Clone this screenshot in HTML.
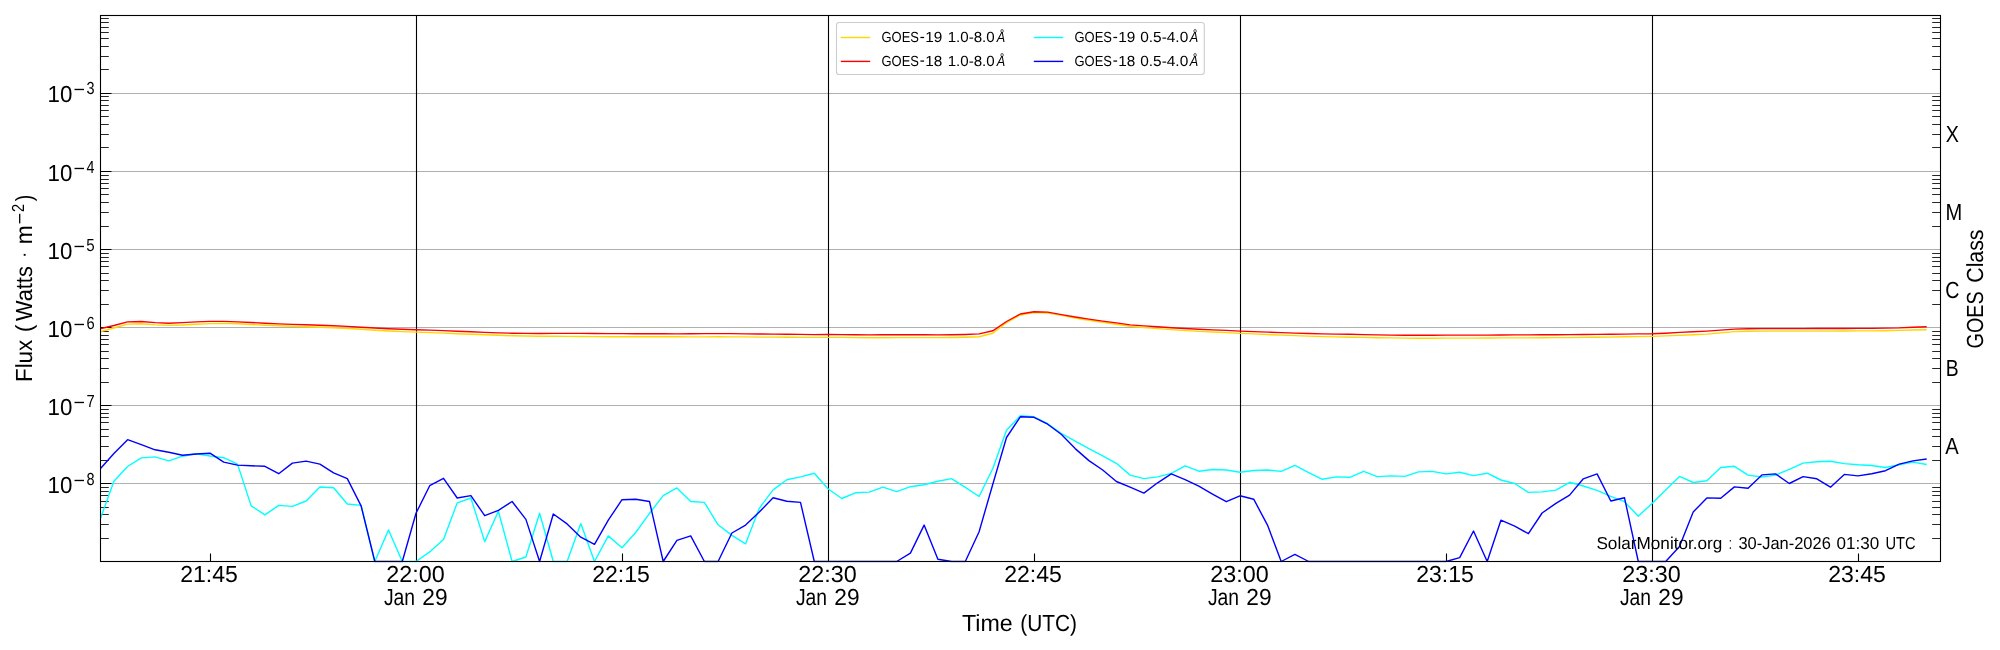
<!DOCTYPE html>
<html lang="en"><head><meta charset="utf-8"><title>GOES X-ray Flux</title>
<style>html,body{margin:0;padding:0;background:#fff;}body{width:2000px;height:650px;overflow:hidden;}svg{display:block;will-change:transform;}text{font-family:"Liberation Sans", sans-serif;fill:#000;text-rendering:geometricPrecision;}</style></head><body>
<svg width="2000" height="650" viewBox="0 0 2000 650">
<rect x="0" y="0" width="2000" height="650" fill="#ffffff"/>
<defs><clipPath id="ax"><rect x="100.5" y="15.5" width="1840.0" height="546.9"/></clipPath></defs>
<path d="M100.5 483.5H1940.5M100.5 405.5H1940.5M100.5 327.5H1940.5M100.5 249.5H1940.5M100.5 171.5H1940.5M100.5 93.5H1940.5" stroke="#b0b0b0" stroke-width="1.1" fill="none"/>
<path d="M416.5 15.5V561.5M828.5 15.5V561.5M1240.5 15.5V561.5M1652.5 15.5V561.5" stroke="#000" stroke-width="1.1" fill="none"/>
<path d="M100.5 483.5h11.0M100.5 405.5h11.0M100.5 327.5h11.0M100.5 249.5h11.0M100.5 171.5h11.0M100.5 93.5h11.0" stroke="#000" stroke-width="1.1" fill="none"/>
<path d="M100.5 538.5h8.3M1940.5 538.5h-8.3M100.5 524.5h8.3M1940.5 524.5h-8.3M100.5 514.5h8.3M1940.5 514.5h-8.3M100.5 507.5h8.3M1940.5 507.5h-8.3M100.5 501.5h8.3M1940.5 501.5h-8.3M100.5 495.5h8.3M1940.5 495.5h-8.3M100.5 491.5h8.3M1940.5 491.5h-8.3M100.5 487.5h8.3M1940.5 487.5h-8.3M100.5 460.5h8.3M1940.5 460.5h-8.3M100.5 446.5h8.3M1940.5 446.5h-8.3M100.5 436.5h8.3M1940.5 436.5h-8.3M100.5 429.5h8.3M1940.5 429.5h-8.3M100.5 422.5h8.3M1940.5 422.5h-8.3M100.5 417.5h8.3M1940.5 417.5h-8.3M100.5 413.5h8.3M1940.5 413.5h-8.3M100.5 409.5h8.3M1940.5 409.5h-8.3M100.5 382.5h8.3M1940.5 382.5h-8.3M100.5 368.5h8.3M1940.5 368.5h-8.3M100.5 358.5h8.3M1940.5 358.5h-8.3M100.5 351.5h8.3M1940.5 351.5h-8.3M100.5 344.5h8.3M1940.5 344.5h-8.3M100.5 339.5h8.3M1940.5 339.5h-8.3M100.5 335.5h8.3M1940.5 335.5h-8.3M100.5 331.5h8.3M1940.5 331.5h-8.3M100.5 304.5h8.3M1940.5 304.5h-8.3M100.5 290.5h8.3M1940.5 290.5h-8.3M100.5 280.5h8.3M1940.5 280.5h-8.3M100.5 273.5h8.3M1940.5 273.5h-8.3M100.5 266.5h8.3M1940.5 266.5h-8.3M100.5 261.5h8.3M1940.5 261.5h-8.3M100.5 257.5h8.3M1940.5 257.5h-8.3M100.5 253.5h8.3M1940.5 253.5h-8.3M100.5 226.5h8.3M1940.5 226.5h-8.3M100.5 212.5h8.3M1940.5 212.5h-8.3M100.5 202.5h8.3M1940.5 202.5h-8.3M100.5 194.5h8.3M1940.5 194.5h-8.3M100.5 188.5h8.3M1940.5 188.5h-8.3M100.5 183.5h8.3M1940.5 183.5h-8.3M100.5 179.5h8.3M1940.5 179.5h-8.3M100.5 175.5h8.3M1940.5 175.5h-8.3M100.5 147.5h8.3M1940.5 147.5h-8.3M100.5 134.5h8.3M1940.5 134.5h-8.3M100.5 124.5h8.3M1940.5 124.5h-8.3M100.5 116.5h8.3M1940.5 116.5h-8.3M100.5 110.5h8.3M1940.5 110.5h-8.3M100.5 105.5h8.3M1940.5 105.5h-8.3M100.5 100.5h8.3M1940.5 100.5h-8.3M100.5 96.5h8.3M1940.5 96.5h-8.3M100.5 69.5h8.3M1940.5 69.5h-8.3M100.5 56.5h8.3M1940.5 56.5h-8.3M100.5 46.5h8.3M1940.5 46.5h-8.3M100.5 38.5h8.3M1940.5 38.5h-8.3M100.5 32.5h8.3M1940.5 32.5h-8.3M100.5 27.5h8.3M1940.5 27.5h-8.3M100.5 22.5h8.3M1940.5 22.5h-8.3M100.5 18.5h8.3M1940.5 18.5h-8.3" stroke="#000" stroke-width="0.85" fill="none"/>
<path d="M210.5 561.5v-8.0M622.5 561.5v-8.0M1034.5 561.5v-8.0M1446.5 561.5v-8.0M1858.5 561.5v-8.0" stroke="#000" stroke-width="1.1" fill="none"/>
<g id="series">
<polyline points="100.1,331.8 113.9,328.0 127.6,324.1 141.3,323.7 155.1,324.9 168.8,325.4 182.5,325.0 196.3,324.2 210.0,323.6 223.7,323.4 237.5,323.8 251.2,324.5 264.9,325.2 278.7,325.8 292.4,326.3 306.1,326.7 319.9,327.2 333.6,327.8 347.3,328.5 361.1,329.3 374.8,330.2 388.5,331.0 402.3,331.6 416.0,332.1 429.7,332.6 443.5,333.1 457.2,333.7 470.9,334.3 484.7,334.8 498.4,335.3 512.1,335.8 525.9,336.0 539.6,336.2 553.3,336.3 567.1,336.4 580.8,336.5 594.5,336.6 608.3,336.7 622.0,336.8 635.7,336.8 649.5,336.8 663.2,336.8 676.9,336.8 690.7,336.9 704.4,336.9 718.1,336.8 731.9,336.9 745.6,336.9 759.3,337.1 773.1,337.1 786.8,337.2 800.5,337.4 814.3,337.4 828.0,337.4 841.7,337.4 855.5,337.6 869.2,337.8 882.9,337.7 896.7,337.6 910.4,337.6 924.1,337.6 937.9,337.6 951.6,337.5 965.3,337.3 979.1,336.8 992.8,333.2 1006.5,322.7 1020.3,315.0 1034.0,312.6 1047.7,313.0 1061.5,315.4 1075.2,318.0 1088.9,320.2 1102.7,322.3 1116.4,324.2 1130.1,326.3 1143.9,327.6 1157.6,328.6 1171.3,329.6 1185.1,330.6 1198.8,331.4 1212.5,332.0 1226.3,332.6 1240.0,333.4 1253.7,333.9 1267.5,334.6 1281.2,335.1 1294.9,335.6 1308.7,336.1 1322.4,336.6 1336.1,336.9 1349.9,337.2 1363.6,337.4 1377.3,337.8 1391.1,337.9 1404.8,338.1 1418.5,338.2 1432.3,338.2 1446.0,338.1 1459.7,338.1 1473.5,338.1 1487.2,338.0 1500.9,337.9 1514.7,337.9 1528.4,337.9 1542.1,337.7 1555.9,337.6 1569.6,337.6 1583.3,337.4 1597.1,337.3 1610.8,337.1 1624.5,336.8 1638.3,336.6 1652.0,336.4 1665.7,335.9 1679.5,335.4 1693.2,334.8 1706.9,334.1 1720.7,332.9 1734.4,331.6 1748.1,331.2 1761.9,331.1 1775.6,331.1 1789.3,331.1 1803.1,331.1 1816.8,331.1 1830.5,331.1 1844.3,331.0 1858.0,330.9 1871.7,330.9 1885.5,330.7 1899.2,330.4 1912.9,330.0 1926.7,329.7" fill="none" stroke="#ffd700" stroke-width="1.4" stroke-linejoin="round" stroke-linecap="butt" clip-path="url(#ax)"/>
<polyline points="100.1,328.8 113.9,325.5 127.6,321.9 141.3,321.5 155.1,322.6 168.8,323.2 182.5,322.6 196.3,321.9 210.0,321.4 223.7,321.4 237.5,321.9 251.2,322.5 264.9,323.2 278.7,323.9 292.4,324.4 306.1,324.8 319.9,325.2 333.6,325.7 347.3,326.4 361.1,327.2 374.8,328.0 388.5,328.7 402.3,329.3 416.0,329.8 429.7,330.1 443.5,330.6 457.2,331.2 470.9,331.8 484.7,332.4 498.4,332.9 512.1,333.2 525.9,333.4 539.6,333.5 553.3,333.4 567.1,333.4 580.8,333.4 594.5,333.5 608.3,333.6 622.0,333.6 635.7,333.7 649.5,333.7 663.2,333.8 676.9,333.9 690.7,333.7 704.4,333.6 718.1,333.6 731.9,333.6 745.6,333.9 759.3,334.0 773.1,334.1 786.8,334.3 800.5,334.4 814.3,334.6 828.0,334.5 841.7,334.6 855.5,334.8 869.2,334.9 882.9,334.8 896.7,334.8 910.4,334.8 924.1,334.8 937.9,334.9 951.6,334.8 965.3,334.5 979.1,333.9 992.8,330.8 1006.5,321.5 1020.3,314.0 1034.0,311.8 1047.7,312.1 1061.5,314.6 1075.2,317.0 1088.9,319.1 1102.7,321.1 1116.4,322.9 1130.1,324.9 1143.9,325.9 1157.6,326.8 1171.3,327.7 1185.1,328.5 1198.8,329.2 1212.5,329.9 1226.3,330.4 1240.0,331.1 1253.7,331.6 1267.5,332.1 1281.2,332.6 1294.9,333.1 1308.7,333.5 1322.4,333.9 1336.1,334.1 1349.9,334.3 1363.6,334.6 1377.3,334.9 1391.1,335.1 1404.8,335.2 1418.5,335.2 1432.3,335.2 1446.0,335.1 1459.7,335.1 1473.5,335.1 1487.2,335.1 1500.9,335.0 1514.7,334.9 1528.4,334.9 1542.1,334.8 1555.9,334.7 1569.6,334.6 1583.3,334.5 1597.1,334.4 1610.8,334.2 1624.5,334.1 1638.3,333.9 1652.0,333.8 1665.7,333.2 1679.5,332.4 1693.2,331.8 1706.9,331.1 1720.7,330.1 1734.4,329.1 1748.1,328.7 1761.9,328.6 1775.6,328.6 1789.3,328.6 1803.1,328.6 1816.8,328.5 1830.5,328.5 1844.3,328.5 1858.0,328.4 1871.7,328.4 1885.5,328.1 1899.2,327.9 1912.9,327.3 1926.7,326.8" fill="none" stroke="#ff0000" stroke-width="1.4" stroke-linejoin="round" stroke-linecap="butt" clip-path="url(#ax)"/>
<polyline points="100.1,519.5 113.9,481.3 127.6,466.5 141.3,457.9 155.1,456.9 168.8,460.9 182.5,456.2 196.3,453.7 210.0,456.0 223.7,457.7 237.5,464.1 251.2,505.9 264.9,514.8 278.7,505.4 292.4,506.4 306.1,501.0 319.9,487.0 333.6,487.7 347.3,504.0 361.1,505.4 374.8,561.5 388.5,530.0 402.3,561.5 416.0,561.5 429.7,551.9 443.5,539.6 457.2,502.9 470.9,498.0 484.7,541.6 498.4,511.3 512.1,561.5 525.9,557.0 539.6,513.3 553.3,561.5 567.1,561.5 580.8,523.6 594.5,561.5 608.3,535.9 622.0,547.7 635.7,532.5 649.5,513.3 663.2,495.6 676.9,487.9 690.7,501.5 704.4,502.4 718.1,524.8 731.9,535.4 745.6,543.8 759.3,508.3 773.1,489.9 786.8,479.8 800.5,476.9 814.3,473.2 828.0,488.7 841.7,498.5 855.5,492.8 869.2,492.1 882.9,487.2 896.7,491.6 910.4,486.7 924.1,484.7 937.9,481.3 951.6,478.6 965.3,487.4 979.1,496.5 992.8,468.5 1006.5,430.3 1020.3,415.8 1034.0,416.8 1047.7,423.7 1061.5,433.5 1075.2,441.2 1088.9,448.6 1102.7,455.9 1116.4,463.3 1130.1,475.1 1143.9,478.6 1157.6,476.9 1171.3,473.4 1185.1,465.8 1198.8,471.2 1212.5,469.5 1226.3,470.0 1240.0,472.2 1253.7,470.5 1267.5,470.0 1281.2,471.4 1294.9,465.3 1308.7,472.7 1322.4,479.3 1336.1,476.9 1349.9,477.3 1363.6,471.4 1377.3,476.6 1391.1,475.9 1404.8,476.4 1418.5,471.9 1432.3,471.4 1446.0,473.9 1459.7,472.2 1473.5,475.6 1487.2,473.2 1500.9,480.0 1514.7,483.5 1528.4,492.4 1542.1,491.9 1555.9,490.1 1569.6,482.3 1583.3,486.0 1597.1,490.4 1610.8,496.3 1624.5,501.7 1638.3,516.2 1652.0,503.4 1665.7,489.9 1679.5,476.4 1693.2,482.5 1706.9,480.8 1720.7,467.5 1734.4,466.3 1748.1,475.1 1761.9,477.0 1775.6,475.1 1789.3,469.3 1803.1,463.1 1816.8,461.8 1830.5,461.3 1844.3,463.6 1858.0,464.8 1871.7,465.5 1885.5,467.5 1899.2,464.8 1912.9,462.1 1926.7,464.5" fill="none" stroke="#00ffff" stroke-width="1.4" stroke-linejoin="round" stroke-linecap="butt" clip-path="url(#ax)"/>
<polyline points="100.1,469.0 113.9,453.5 127.6,439.7 141.3,444.6 155.1,449.8 168.8,452.3 182.5,455.2 196.3,454.0 210.0,453.2 223.7,462.1 237.5,465.1 251.2,465.8 264.9,466.3 278.7,473.7 292.4,463.1 306.1,461.1 319.9,464.1 333.6,472.9 347.3,478.6 361.1,505.9 374.8,561.5 388.5,561.5 402.3,561.5 416.0,513.3 429.7,485.7 443.5,478.3 457.2,498.0 470.9,495.6 484.7,515.7 498.4,510.3 512.1,501.5 525.9,519.4 539.6,561.5 553.3,514.0 567.1,523.9 580.8,537.2 594.5,544.3 608.3,520.2 622.0,499.7 635.7,499.2 649.5,501.5 663.2,561.5 676.9,540.3 690.7,535.9 704.4,561.5 718.1,561.5 731.9,533.0 745.6,525.1 759.3,512.0 773.1,497.8 786.8,501.2 800.5,502.4 814.3,561.5 828.0,561.5 841.7,561.5 855.5,561.5 869.2,561.5 882.9,561.5 896.7,561.5 910.4,553.1 924.1,525.1 937.9,559.3 951.6,561.5 965.3,561.5 979.1,531.7 992.8,484.2 1006.5,437.5 1020.3,416.8 1034.0,417.3 1047.7,424.2 1061.5,434.5 1075.2,448.6 1088.9,460.6 1102.7,470.0 1116.4,481.5 1130.1,487.2 1143.9,493.1 1157.6,482.8 1171.3,473.9 1185.1,479.6 1198.8,486.2 1212.5,494.1 1226.3,501.7 1240.0,495.8 1253.7,499.2 1267.5,525.1 1281.2,561.5 1294.9,554.4 1308.7,561.5 1322.4,561.5 1336.1,561.5 1349.9,561.5 1363.6,561.5 1377.3,561.5 1391.1,561.5 1404.8,561.5 1418.5,561.5 1432.3,561.5 1446.0,561.5 1459.7,557.6 1473.5,531.0 1487.2,561.5 1500.9,520.2 1514.7,526.1 1528.4,533.7 1542.1,513.0 1555.9,503.4 1569.6,495.1 1583.3,478.8 1597.1,473.9 1610.8,501.0 1624.5,497.8 1638.3,561.5 1652.0,561.5 1665.7,561.5 1679.5,546.5 1693.2,512.0 1706.9,497.9 1720.7,498.3 1734.4,486.9 1748.1,488.2 1761.9,474.9 1775.6,473.9 1789.3,483.5 1803.1,476.6 1816.8,478.8 1830.5,487.2 1844.3,474.4 1858.0,475.9 1871.7,473.7 1885.5,470.7 1899.2,464.1 1912.9,460.9 1926.7,459.0" fill="none" stroke="#0000ff" stroke-width="1.4" stroke-linejoin="round" stroke-linecap="butt" clip-path="url(#ax)"/>
</g>
<rect x="100.5" y="15.5" width="1840.0" height="546.0" fill="none" stroke="#000" stroke-width="1.1"/>
<g id="legend">
<rect x="836.5" y="22.5" width="367.8" height="52" rx="2.8" ry="2.8" fill="#ffffff" fill-opacity="0.8" stroke="#cccccc" stroke-width="1.1"/>
<path d="M840.8 37.5h29.4" stroke="#ffd700" stroke-width="1.4" fill="none"/>
<path d="M840.8 61.4h29.4" stroke="#ff0000" stroke-width="1.4" fill="none"/>
<path d="M1033.8 37.5h29.4" stroke="#00ffff" stroke-width="1.4" fill="none"/>
<path d="M1033.8 61.4h29.4" stroke="#0000ff" stroke-width="1.4" fill="none"/>
</g>
<g id="labels">
<rect x="74.5" y="479.80" width="9.5" height="1.35" fill="#000"/>
<rect x="74.5" y="401.80" width="9.5" height="1.35" fill="#000"/>
<rect x="74.5" y="323.80" width="9.5" height="1.35" fill="#000"/>
<rect x="74.5" y="245.80" width="9.5" height="1.35" fill="#000"/>
<rect x="74.5" y="167.80" width="9.5" height="1.35" fill="#000"/>
<rect x="74.5" y="88.80" width="9.5" height="1.35" fill="#000"/>
<rect x="920.40" y="36.85" width="3.70" height="1.25" fill="#000"/>
<rect x="920.40" y="60.45" width="3.70" height="1.25" fill="#000"/>
<rect x="1113.40" y="36.85" width="3.70" height="1.25" fill="#000"/>
<rect x="1113.40" y="60.45" width="3.70" height="1.25" fill="#000"/>
<rect x="19.05" y="213.8" width="1.3" height="9.6" fill="#000"/>
<rect x="23.7" y="253.9" width="1.9" height="1.9" fill="#000"/>
<text transform="translate(47.55 493.00) scale(0.9577 1)" font-size="23.30">10</text>
<text transform="translate(86.59 484.90) scale(0.8341 1)" font-size="17.40">8</text>
<text transform="translate(47.55 415.00) scale(0.9577 1)" font-size="23.30">10</text>
<text transform="translate(86.52 406.90) scale(0.8463 1)" font-size="17.40">7</text>
<text transform="translate(47.55 337.00) scale(0.9577 1)" font-size="23.30">10</text>
<text transform="translate(86.51 328.90) scale(0.8435 1)" font-size="17.40">6</text>
<text transform="translate(47.55 259.00) scale(0.9577 1)" font-size="23.30">10</text>
<text transform="translate(86.27 250.90) scale(0.8704 1)" font-size="17.40">5</text>
<text transform="translate(47.55 181.00) scale(0.9577 1)" font-size="23.30">10</text>
<text transform="translate(86.51 172.90) scale(0.8230 1)" font-size="17.40">4</text>
<text transform="translate(47.55 102.00) scale(0.9577 1)" font-size="23.30">10</text>
<text transform="translate(86.61 93.90) scale(0.8318 1)" font-size="17.40">3</text>
<text transform="translate(32.00 382.03) rotate(-90) scale(0.9604 1)" font-size="23.30">Flux</text>
<text transform="translate(32.00 331.93) rotate(-90) scale(0.9426 1)" font-size="23.30">(</text>
<text transform="translate(32.00 320.98) rotate(-90) scale(0.9332 1)" font-size="23.30">Watts</text>
<text transform="translate(32.00 244.31) rotate(-90) scale(0.9841 1)" font-size="23.30">m</text>
<text transform="translate(24.10 211.96) rotate(-90) scale(0.8335 1)" font-size="17.40">2</text>
<text transform="translate(32.00 201.37) rotate(-90) scale(0.8462 1)" font-size="23.30">)</text>
<text transform="translate(180.20 582.00) scale(0.9900 1)" font-size="23.30">21:45</text>
<text transform="translate(386.18 582.00) scale(1.0033 1)" font-size="23.30">22:00</text>
<text transform="translate(383.89 604.70) scale(0.8280 1)" font-size="23.30">Jan</text>
<text transform="translate(422.31 604.70) scale(0.9760 1)" font-size="23.30">29</text>
<text transform="translate(592.20 582.00) scale(0.9900 1)" font-size="23.30">22:15</text>
<text transform="translate(798.18 582.00) scale(1.0033 1)" font-size="23.30">22:30</text>
<text transform="translate(795.89 604.70) scale(0.8280 1)" font-size="23.30">Jan</text>
<text transform="translate(834.31 604.70) scale(0.9760 1)" font-size="23.30">29</text>
<text transform="translate(1004.20 582.00) scale(0.9900 1)" font-size="23.30">22:45</text>
<text transform="translate(1210.18 582.00) scale(1.0033 1)" font-size="23.30">23:00</text>
<text transform="translate(1207.89 604.70) scale(0.8280 1)" font-size="23.30">Jan</text>
<text transform="translate(1246.31 604.70) scale(0.9760 1)" font-size="23.30">29</text>
<text transform="translate(1416.19 582.00) scale(0.9900 1)" font-size="23.30">23:15</text>
<text transform="translate(1622.18 582.00) scale(1.0033 1)" font-size="23.30">23:30</text>
<text transform="translate(1619.89 604.70) scale(0.8280 1)" font-size="23.30">Jan</text>
<text transform="translate(1658.31 604.70) scale(0.9760 1)" font-size="23.30">29</text>
<text transform="translate(1828.19 582.00) scale(0.9900 1)" font-size="23.30">23:45</text>
<text transform="translate(961.95 630.80) scale(0.9971 1)" font-size="23.30">Time</text>
<text transform="translate(1020.34 630.80) scale(0.8946 1)" font-size="23.30">(UTC)</text>
<text transform="translate(1945.65 141.60) scale(0.8452 1)" font-size="23.30">X</text>
<text transform="translate(1945.55 219.60) scale(0.8627 1)" font-size="23.30">M</text>
<text transform="translate(1945.22 297.60) scale(0.8413 1)" font-size="23.30">C</text>
<text transform="translate(1945.71 375.60) scale(0.8294 1)" font-size="23.30">B</text>
<text transform="translate(1945.23 453.60) scale(0.8648 1)" font-size="23.30">A</text>
<text transform="translate(1983.30 348.38) rotate(-90) scale(0.8479 1)" font-size="23.30">GOES</text>
<text transform="translate(1983.30 282.76) rotate(-90) scale(0.9147 1)" font-size="23.30">Class</text>
<text transform="translate(1596.41 548.80) scale(0.9936 1)" font-size="17.30">SolarMonitor.org</text>
<text transform="translate(1728.80 548.80) scale(0.6474 1)" font-size="17.30">:</text>
<text transform="translate(1738.43 548.80) scale(0.9520 1)" font-size="17.30">30-Jan-2026</text>
<text transform="translate(1836.55 548.80) scale(0.9862 1)" font-size="17.30">01:30</text>
<text transform="translate(1885.52 548.80) scale(0.8484 1)" font-size="17.30">UTC</text>
<text transform="translate(881.51 41.90) scale(0.8867 1)" font-size="14.60">GOES</text>
<text transform="translate(925.32 41.90) scale(1.0521 1)" font-size="14.60">19</text>
<text transform="translate(947.69 41.90) scale(1.0351 1)" font-size="14.60">1.0-8.0</text>
<text transform="translate(996.71 41.90) scale(0.8691 1)" font-size="14.60" font-style="italic">&#197;</text>
<text transform="translate(881.51 65.50) scale(0.8867 1)" font-size="14.60">GOES</text>
<text transform="translate(925.33 65.50) scale(1.0478 1)" font-size="14.60">18</text>
<text transform="translate(947.69 65.50) scale(1.0351 1)" font-size="14.60">1.0-8.0</text>
<text transform="translate(996.71 65.50) scale(0.8691 1)" font-size="14.60" font-style="italic">&#197;</text>
<text transform="translate(1074.51 41.90) scale(0.8867 1)" font-size="14.60">GOES</text>
<text transform="translate(1118.32 41.90) scale(1.0521 1)" font-size="14.60">19</text>
<text transform="translate(1140.23 41.90) scale(1.0565 1)" font-size="14.60">0.5-4.0</text>
<text transform="translate(1189.71 41.90) scale(0.8691 1)" font-size="14.60" font-style="italic">&#197;</text>
<text transform="translate(1074.51 65.50) scale(0.8867 1)" font-size="14.60">GOES</text>
<text transform="translate(1118.33 65.50) scale(1.0478 1)" font-size="14.60">18</text>
<text transform="translate(1140.23 65.50) scale(1.0565 1)" font-size="14.60">0.5-4.0</text>
<text transform="translate(1189.71 65.50) scale(0.8691 1)" font-size="14.60" font-style="italic">&#197;</text>
</g>
</svg></body></html>
